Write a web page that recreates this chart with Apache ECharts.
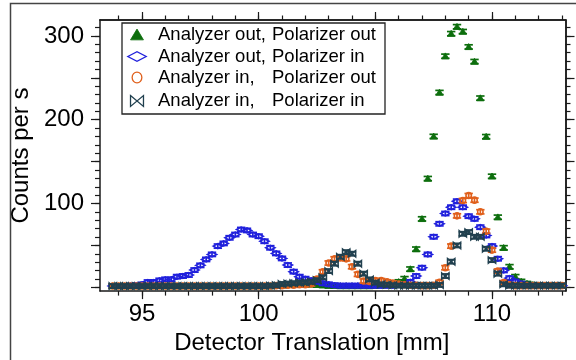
<!DOCTYPE html>
<html>
<head>
<meta charset="utf-8">
<script src="https://cdn.jsdelivr.net/npm/echarts@6/dist/echarts.min.js"></script>
<style>
html,body{margin:0;padding:0;background:#fff;}
#chart{width:576px;height:360px;}
</style>
</head>
<body>
<div id="chart"></div>
<script>
// ---------------- data ----------------
const detectorTranslation = [
  93.75, 94.00, 94.25, 94.50, 94.75, 95.00, 95.25, 95.50, 95.75, 96.00,
  96.25, 96.50, 96.75, 97.00, 97.25, 97.50, 97.75, 98.00, 98.25, 98.50,
  98.75, 99.00, 99.25, 99.50, 99.75, 100.00, 100.25, 100.50, 100.75, 101.00,
  101.25, 101.50, 101.75, 102.00, 102.25, 102.50, 102.75, 103.00, 103.25, 103.50,
  103.75, 104.00, 104.25, 104.50, 104.75, 105.00, 105.25, 105.50, 105.75, 106.00,
  106.25, 106.50, 106.75, 107.00, 107.25, 107.50, 107.75, 108.00, 108.25, 108.50,
  108.75, 109.00, 109.25, 109.50, 109.75, 110.00, 110.25, 110.50, 110.75, 111.00,
  111.25, 111.50, 111.75, 112.00, 112.25, 112.50, 112.75, 113.00
];
// Analyzer out, Polarizer out (green triangles)
const countsAoutPout = [
  1.5, 1.5, 1.5, 1.5, 1.5, 1.5, 1.5, 1.5, 1.5, 1.5,
  1.5, 1.5, 1.5, 1.5, 1.5, 1.5, 1.5, 1.5, 1.5, 1.5,
  1.5, 1.5, 1.5, 1.5, 1.5, 1.5, 1.5, 1.5, 2, 2.5,
  3, 3, 3.5, 3, 3.5, 3, 2.5, 2, 2, 1.5,
  1.5, 1.5, 1.5, 1.5, 1.5, 2, 2.5, 3, 4.5, 6.5,
  10.3, 21.8, 45.6, 81.7, 129.8, 180.1, 232.5, 275.8, 302.7, 311,
  305.2, 286.9, 269.4, 225.8, 179.8, 132.5, 83.7, 47.2, 24.6, 12.7,
  7, 4.5, 3, 2.5, 2, 2, 2, 2
];
// Analyzer out, Polarizer in (blue diamonds)
const countsAoutPin = [
  1.5, 1.5, 1.5, 2, 2.5, 3.5, 6.3, 6.3, 8.3, 9.5,
  9.5, 12.7, 13.5, 14.7, 20.6, 26.2, 33.3, 39.3, 49.2, 52.4,
  59.1, 63, 69, 67.9, 63, 61, 55, 47.2, 40.5, 34.5,
  26.6, 18.7, 12.7, 10.3, 8.3, 6.7, 4.8, 3.6, 2.5, 2,
  2, 2, 2, 2, 2, 2, 2, 2, 2, 3,
  4, 6.5, 13.5, 23.4, 39.3, 60.3, 75.8, 88.1, 95.6, 102.8,
  95.6, 84.9, 81.7, 71.8, 61.9, 49.2, 34.1, 20.2, 11, 7,
  4.5, 3, 2, 2, 2, 2, 2, 2
];
// Analyzer in, Polarizer out (orange circles)
const countsAinPout = [
  1.5, 1.5, 1.5, 1.5, 1.5, 1.5, 1.5, 1.5, 1.5, 1.5,
  1.5, 1.5, 1.5, 1.5, 1.5, 1.5, 1.5, 1.5, 1.5, 1.5,
  1.5, 1.5, 1.5, 1.5, 1.5, 1.5, 1.5, 1.5, 2, 2,
  2.5, 2.5, 3, 3, 4, 10, 18.5, 29, 34, 35,
  34, 24.6, 15.5, 7.5, 7, 8, 8, 6.5, 5, 4,
  3, 2.5, 2.5, 2, 2, 2.5, 6, 23.4, 49.2, 85.3,
  103.6, 109.5, 104, 90.1, 67, 44.4, 19.4, 5.6, 3, 2,
  2, 2, 2, 2, 2, 2, 2, 2
];
// Analyzer in, Polarizer in (dark bowties)
const countsAinPin = [
  1.5, 1.5, 1.5, 1.5, 1.5, 1.5, 1.5, 1.5, 1.5, 1.5,
  1.5, 1.5, 1.5, 1.5, 1.5, 1.5, 1.5, 1.5, 1.5, 1.5,
  1.5, 1.5, 1.5, 1.5, 1.5, 1.5, 1.5, 2, 2.5, 4,
  4.5, 5, 5.5, 6, 6.5, 8.5, 12, 19.4, 28.2, 36.5,
  42, 40.1, 28.2, 16.3, 9.5, 5.6, 3.6, 3, 2.5, 2,
  2, 2, 2, 2, 2, 2, 2.8, 13.5, 30.6, 50,
  63.9, 65.9, 60.3, 60.3, 46, 32.5, 16.3, 3.6, 2, 2,
  2, 2, 2, 2, 2, 2, 2, 2
];
const errorBarHalf = 2.5;

const seriesNames = [
  'Analyzer out, Polarizer out',
  'Analyzer out, Polarizer in',
  'Analyzer in,   Polarizer out',
  'Analyzer in,   Polarizer in'
];
const legendFirstPart = ['Analyzer out,', 'Analyzer out,', 'Analyzer in,', 'Analyzer in,'];
const legendSecondPart = ['Polarizer out', 'Polarizer in', 'Polarizer out', 'Polarizer in'];

const xLabelTicks = [95, 100, 105, 110];
const xMinorTicks = [94, 95, 96, 97, 98, 99, 100, 101, 102, 103, 104, 105, 106, 107, 108, 109, 110, 111, 112, 113];
const yLabelTicks = [100, 200, 300];
const yMajorTicks = [0, 50, 100, 150, 200, 250, 300];
const yMinorTicks = [0, 10, 20, 30, 40, 50, 60, 70, 80, 90, 100, 110, 120, 130, 140, 150, 160, 170, 180, 190,
                     200, 210, 220, 230, 240, 250, 260, 270, 280, 290, 300, 310];

// ---------------- styling ----------------
const FONT = '"Liberation Sans", Arial, Helvetica, sans-serif';
const AXC = '#1a1a1a';
const COLORS = ['#0d6e0d', '#2020dc', '#e0601c', '#21404f'];
const SHAPES = ['triangle', 'diamond', 'circle', 'bowtie'];
const X_MIN = 93.2, X_MAX = 113.15, Y_MIN = -4.5, Y_MAX = 319;

function markerShape(kind, cx, cy, color, s, lw) {
  if (kind === 'triangle') {
    return { type: 'polygon', shape: { points: [[cx, cy - 3.3 * s], [cx - 3.6 * s, cy + 2.7 * s], [cx + 3.6 * s, cy + 2.7 * s]] },
      style: { fill: color, stroke: color, lineWidth: 0.8 } };
  }
  if (kind === 'diamond') {
    return { type: 'polygon', shape: { points: [[cx - 4.6 * s, cy], [cx, cy - 2.4 * s], [cx + 4.6 * s, cy], [cx, cy + 2.4 * s]] },
      style: { fill: 'none', stroke: color, lineWidth: lw } };
  }
  if (kind === 'circle') {
    return { type: 'ellipse', shape: { cx: cx, cy: cy, rx: 2.7 * s, ry: 3.0 * s },
      style: { fill: 'none', stroke: color, lineWidth: lw } };
  }
  return { type: 'polygon', shape: { points: [[cx - 3.6 * s, cy - 3 * s], [cx + 3.6 * s, cy + 3 * s], [cx + 3.6 * s, cy - 3 * s], [cx - 3.6 * s, cy + 3 * s]] },
    style: { fill: 'none', stroke: color, lineWidth: lw } };
}

function makeSeries(idx, counts) {
  const color = COLORS[idx];
  const kind = SHAPES[idx];
  return {
    type: 'custom',
    name: seriesNames[idx],
    xAxisIndex: 0,
    yAxisIndex: 0,
    z: 10 + idx,
    data: detectorTranslation.map((x, i) => [x, counts[i]]),
    encode: { x: 0, y: 1 },
    renderItem: function (params, api) {
      const x = api.value(0), y = api.value(1);
      const p = api.coord([x, y]);
      const top = api.coord([x, y + errorBarHalf])[1];
      const bot = api.coord([x, y - errorBarHalf])[1];
      const hw = 4.2;
      const ls = { stroke: color, lineWidth: 1.7 };
      return {
        type: 'group',
        children: [
          { type: 'line', shape: { x1: p[0], y1: top, x2: p[0], y2: bot }, style: ls },
          { type: 'line', shape: { x1: p[0] - hw, y1: top, x2: p[0] + hw, y2: top }, style: ls },
          { type: 'line', shape: { x1: p[0] - hw, y1: bot, x2: p[0] + hw, y2: bot }, style: ls },
          markerShape(kind, p[0], p[1], color, 1, 1.6)
        ]
      };
    }
  };
}

function xAxisDef(position, ticks, len, labels, name) {
  return {
    type: 'value', position: position, min: X_MIN, max: X_MAX,
    axisLine: { show: !!labels || position === 'top', onZero: false, lineStyle: { color: AXC, width: 1.5 } },
    axisTick: { show: true, inside: false, length: len, customValues: ticks, lineStyle: { color: AXC, width: 1.2 } },
    axisLabel: labels ? { show: true, customValues: labels, fontSize: 24, color: '#000', fontFamily: FONT, margin: 11 } : { show: false },
    splitLine: { show: false },
    name: name || '',
    nameLocation: 'middle',
    nameGap: 37,
    nameTextStyle: { fontSize: 24, color: '#000', fontFamily: FONT, padding: [0, 42, 0, 0] }
  };
}
function yAxisDef(position, ticks, len, labels, name) {
  return {
    type: 'value', position: position, min: Y_MIN, max: Y_MAX,
    axisLine: { show: !!labels || position === 'right', onZero: false, lineStyle: { color: AXC, width: 1.5 } },
    axisTick: { show: true, inside: false, length: len, customValues: ticks, lineStyle: { color: AXC, width: 1.2 } },
    axisLabel: labels ? { show: true, customValues: labels, fontSize: 24, color: '#000', fontFamily: FONT, margin: 16 } : { show: false },
    splitLine: { show: false },
    name: name || '',
    nameLocation: 'middle',
    nameGap: 56,
    nameRotate: 90,
    nameTextStyle: { fontSize: 24, color: '#000', fontFamily: FONT }
  };
}

// legend drawn as graphic elements
const legendRowsY = [35, 56.5, 77.5, 101];
const legendChildren = [
  { type: 'rect', shape: { x: 122, y: 23, width: 263, height: 91 }, style: { fill: '#fff', stroke: '#222', lineWidth: 1.3 } }
];
for (let i = 0; i < 4; i++) {
  const cy = legendRowsY[i];
  legendChildren.push(markerShape(SHAPES[i], 137, cy, COLORS[i], i === 1 ? 2.0 : 1.8, 1.3));
  legendChildren.push({ type: 'text', style: { x: 158, y: cy, text: legendFirstPart[i], fontSize: 18.5, fontFamily: FONT, fill: '#000', verticalAlign: 'middle', align: 'left' } });
  legendChildren.push({ type: 'text', style: { x: 272, y: cy, text: legendSecondPart[i], fontSize: 18.5, fontFamily: FONT, fill: '#000', verticalAlign: 'middle', align: 'left' } });
}

const chart = echarts.init(document.getElementById('chart'), null, { renderer: 'canvas' });
chart.setOption({
  animation: false,
  backgroundColor: '#fff',
  grid: { left: 100, right: 10.5, top: 20, bottom: 68.3 },
  xAxis: [
    xAxisDef('bottom', xLabelTicks, 8, xLabelTicks, 'Detector Translation [mm]'),
    xAxisDef('bottom', xMinorTicks, 4.5, null),
    xAxisDef('top', xLabelTicks, 8, null),
    xAxisDef('top', xMinorTicks, 4.5, null)
  ],
  yAxis: [
    yAxisDef('left', yMajorTicks, 9, yLabelTicks, 'Counts per s'),
    yAxisDef('left', yMinorTicks, 5, null),
    yAxisDef('right', yMajorTicks, 9, null),
    yAxisDef('right', yMinorTicks, 5, null)
  ],
  graphic: [
    { type: 'rect', silent: true, z: -10, shape: { x: 10.5, y: 3.5, width: 600, height: 400 }, style: { fill: 'none', stroke: '#444', lineWidth: 1.5 } },
    { type: 'group', z: 100, children: legendChildren }
  ],
  series: [
    makeSeries(1, countsAoutPin),
    makeSeries(0, countsAoutPout),
    makeSeries(2, countsAinPout),
    makeSeries(3, countsAinPin)
  ]
});
</script>
</body>
</html>
